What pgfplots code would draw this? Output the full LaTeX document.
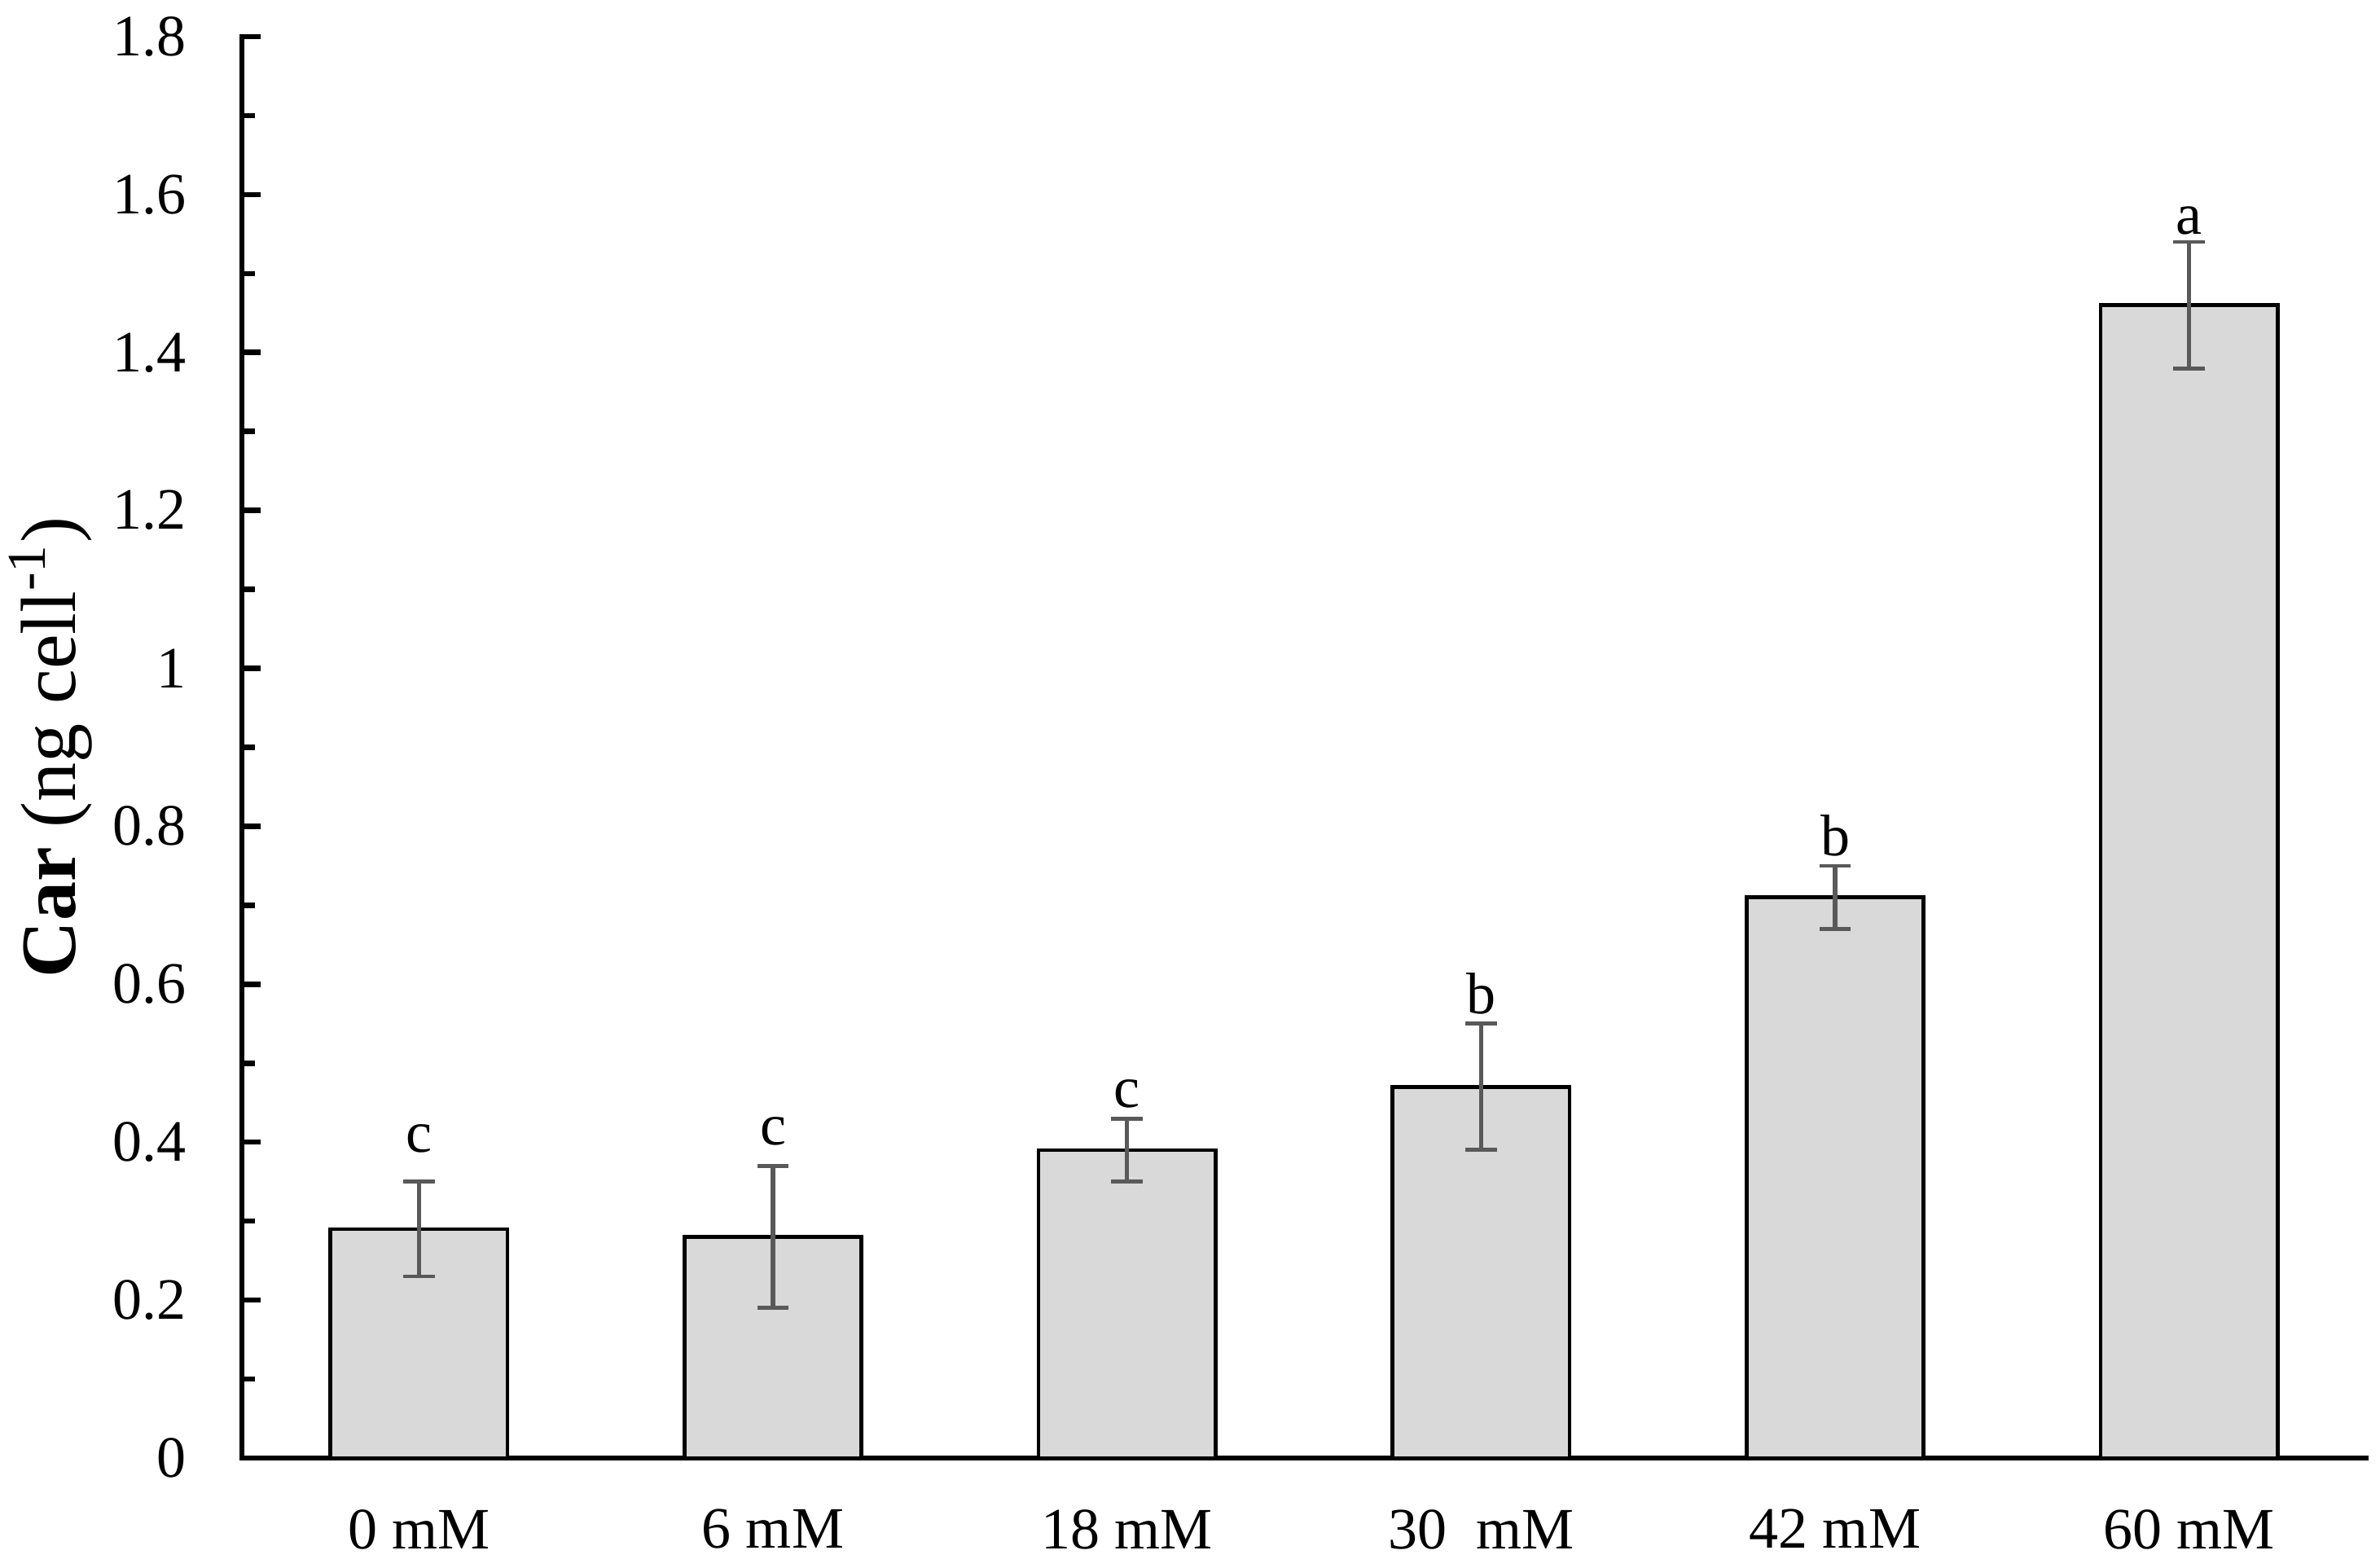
\documentclass[border=0pt]{standalone}
\usepackage{pgfplots}
\pgfplotsset{compat=1.18}
\usepackage{fontspec}
\setmainfont{Liberation Serif}
\definecolor{barfill}{HTML}{D9D9D9}
\definecolor{errgray}{HTML}{595959}

\begin{document}
\begin{tikzpicture}
\begin{axis}[
  scale only axis, width=434.67pt, height=290.83pt,
  at={(0,0)}, anchor=south west,
  xmin=-0.5, xmax=5.5, ymin=0, ymax=1.8,
  enlargelimits=false,
  axis lines*=left,
  axis line style={line width=1.1pt, line cap=rect},
  xtick={0,...,5},
  xticklabels={0 mM, 6 mM, 18 mM, 30\ \ mM, 42 mM, 60 mM},
  major x tick style={draw=none},
  ytick={0,0.2,0.4,0.6,0.8,1,1.2,1.4,1.6,1.8},
  minor y tick num=1,
  tick align=inside,
  major tick length=3.8pt, minor tick length=2.7pt,
  every tick/.style={black, line width=1.1pt},
  /pgf/number format/assume math mode=true,
  ticklabel style={font=\fontsize{12}{14}\selectfont},
  yticklabel style={anchor=east, inner sep=0pt, xshift=-11.17pt},
  xticklabel style={anchor=north, inner sep=0pt, yshift=-10.33pt},
  ylabel={\textbf{Car} (ng cell\textsuperscript{-1})},
  every axis y label/.style={at={([xshift=-34pt]axis description cs:0,0.5)}, rotate=90, anchor=base, font=\fontsize{16}{19}\selectfont, inner sep=0pt},
  clip=false,
]
% means with standard errors
\addplot[ybar, bar width=0.5, bar shift=0pt, fill=barfill, draw=black, line width=0.75pt,
  error bars/.cd, y dir=both, y explicit,
  error bar style={errgray, line width=0.85pt},
  error mark options={rotate=90, errgray, line width=0.8pt, mark size=3.2pt}]
  table[x=x, y=y, y error=e] {
x y    e
0 0.29 0.06
1 0.28 0.09
2 0.39 0.04
3 0.47 0.08
4 0.71 0.04
5 1.46 0.08
};
% significance letters
\addplot[draw=none, nodes near coords, point meta=explicit symbolic,
  nodes near coords style={anchor=base, inner sep=0pt, font=\fontsize{12}{14}\selectfont, black}]
  table[x=x, y=y, meta=l] {
x y     l
0 0.387 c
1 0.397 c
2 0.444 c
3 0.563 b
4 0.763 b
5 1.550 a
};
\end{axis}
\pgfresetboundingbox
\path[use as bounding box] (-49.5pt,-22.5pt) rectangle (437.5pt,298.33pt);
\end{tikzpicture}
\end{document}
